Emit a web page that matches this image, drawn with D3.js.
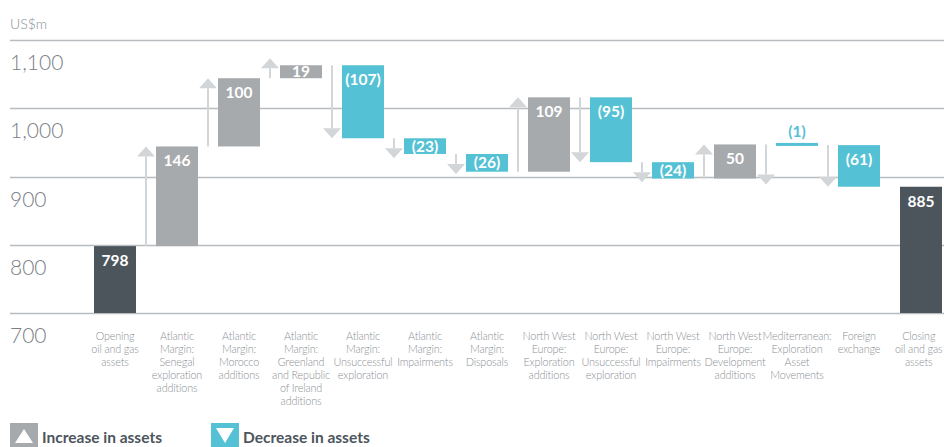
<!DOCTYPE html>
<html>
<head>
<meta charset="utf-8">
<script src="https://cdn.jsdelivr.net/npm/d3@7"></script>
<style>
  html, body { margin: 0; padding: 0; background: #fff; }
  svg { display: block; font-family: Lato, "Open Sans", sans-serif; }
</style>
</head>
<body>
<div id="chart"></div>
<script>
// Waterfall of oil and gas assets, US$m
const categories = [
    "Opening\noil and gas\nassets",
    "Atlantic\nMargin:\nSenegal\nexploration\nadditions",
    "Atlantic\nMargin:\nMorocco\nadditions",
    "Atlantic\nMargin:\nGreenland\nand Republic\nof Ireland\nadditions",
    "Atlantic\nMargin:\nUnsuccessful\nexploration",
    "Atlantic\nMargin:\nImpairments",
    "Atlantic\nMargin:\nDisposals",
    "North West\nEurope:\nExploration\nadditions",
    "North West\nEurope:\nUnsuccessful\nexploration",
    "North West\nEurope:\nImpairments",
    "North West\nEurope:\nDevelopment\nadditions",
    "Mediterranean:\nExploration\nAsset\nMovements",
    "Foreign\nexchange",
    "Closing\noil and gas\nassets"
];
const values = [798, 146, 100, 19, -107, -23, -26, 109, -95, -24, 50, -1, -61, 885];
const yTicks = [700, 800, 900, 1000, 1100];
const legendItems = ["Increase in assets", "Decrease in assets"];

const width = 944, height = 447;
const colors = { total: "#4d555c", inc: "#a7aaad", dec: "#55c1d5", arrow: "#d3d6d9", grid: "#b9bcbf" };

const svg = d3.select("#chart").append("svg")
    .attr("width", width)
    .attr("height", height);

const y = d3.scaleLinear().domain([700, 1100]).range([313, 40]);
const x = d3.scaleBand()
    .domain(d3.range(categories.length))
    .range([84, 952])
    .paddingInner(0.3226)
    .paddingOuter(0.1613);

// build running totals
let running = 0;
const steps = values.map((v, i) => {
    const last = i === values.length - 1;
    let kind, start, end;
    if (i === 0 || last) {
        kind = "total"; start = 700; end = v; running = v;
    } else {
        kind = v >= 0 ? "inc" : "dec";
        start = running; end = running + v; running = end;
    }
    return { i, v, kind, start, end };
});

// gridlines + y labels
svg.append("g").selectAll("line")
    .data(yTicks)
    .enter().append("line")
    .attr("x1", 10).attr("x2", width)
    .attr("y1", d => Math.round(y(d)) + 0.5)
    .attr("y2", d => Math.round(y(d)) + 0.5)
    .attr("stroke", colors.grid)
    .attr("stroke-width", 1.5);

svg.append("g").selectAll("text")
    .data(yTicks)
    .enter().append("text")
    .attr("x", 10)
    .attr("y", d => y(d) + 30)
    .attr("fill", "#7b8086")
    .style("font-size", "21px")
    .style("font-weight", 300)
    .text(d => d3.format(",")(d));

svg.append("text")
    .attr("x", 10).attr("y", 29)
    .attr("fill", "#8a8f94")
    .style("font-size", "14px")
    .style("font-weight", 300)
    .text("US$m");

// arrows
const arrows = svg.append("g").selectAll("g")
    .data(steps.filter(d => d.kind !== "total"))
    .enter().append("g")
    .attr("transform", d => `translate(${x(d.i) - 10},0)`);

arrows.each(function(d) {
    const g = d3.select(this);
    const y0 = y(d.start), y1 = y(d.end);
    const h = Math.abs(y1 - y0);
    const len = h < 4 ? 40 : Math.max(h, 20);
    const dir = d.kind === "inc" ? -1 : 1;
    const tip = y0 + dir * len;
    const base = tip - dir * 10;
    g.append("line")
        .attr("x1", 0).attr("x2", 0)
        .attr("y1", y0).attr("y2", base)
        .attr("stroke", colors.arrow)
        .attr("stroke-width", 2);
    g.append("path")
        .attr("d", `M-9,${base}L9,${base}L0,${tip}Z`)
        .attr("fill", colors.arrow);
});

// bars
const bars = svg.append("g").selectAll("g")
    .data(steps)
    .enter().append("g");

bars.append("rect")
    .attr("x", d => x(d.i))
    .attr("width", x.bandwidth())
    .attr("y", d => {
        const top = y(Math.max(d.start, d.end));
        const h = Math.abs(y(d.start) - y(d.end));
        return h < 3 ? top - 1.5 : top;
    })
    .attr("height", d => Math.max(3, Math.abs(y(d.start) - y(d.end))))
    .attr("fill", d => colors[d.kind]);

bars.append("text")
    .attr("x", d => x(d.i) + x.bandwidth() / 2)
    .attr("y", d => {
        const top = y(Math.max(d.start, d.end));
        const h = Math.abs(y(d.start) - y(d.end));
        if (h < 4) return top - 7;
        if (h > 30) return top + 20;
        return top + h / 2 + 5.5;
    })
    .attr("text-anchor", "middle")
    .attr("fill", d => Math.abs(y(d.start) - y(d.end)) < 4 ? colors.dec : "#fff")
    .style("font-size", "15.5px")
    .style("font-weight", 700)
    .text(d => d.v < 0 ? `(${-d.v})` : d.v);

// category labels
const cat = svg.append("g").selectAll("text")
    .data(categories)
    .enter().append("text")
    .attr("x", (d, i) => x(i) + x.bandwidth() / 2)
    .attr("y", 340)
    .attr("text-anchor", "middle")
    .attr("fill", "#8a8f94")
    .style("font-size", "10.8px")
    .style("letter-spacing", "-0.15px")
    .style("font-weight", 300);

cat.selectAll("tspan")
    .data(d => d.split("\n"))
    .enter().append("tspan")
    .attr("x", function() { return d3.select(this.parentNode).attr("x"); })
    .attr("dy", (d, i) => i === 0 ? 0 : 12.9)
    .text(d => d);

// keep the last label inside the picture
cat.each(function() {
    const box = this.getBBox();
    const over = box.x + box.width - (width - 1);
    if (over > 0) {
        const nx = +d3.select(this).attr("x") - over;
        d3.select(this).attr("x", nx).selectAll("tspan").attr("x", nx);
    }
});

// legend
const legend = svg.append("g").selectAll("g")
    .data(legendItems)
    .enter().append("g")
    .attr("transform", (d, i) => `translate(${i === 0 ? 10 : 211},423)`);

legend.append("rect")
    .attr("width", 28).attr("height", 24)
    .attr("fill", (d, i) => i === 0 ? colors.inc : colors.dec);

legend.append("path")
    .attr("d", (d, i) => i === 0 ? "M5,20L23,20L14,6Z" : "M5,5L23,5L14,20Z")
    .attr("fill", "#fff");

legend.append("text")
    .attr("x", 32).attr("y", 20)
    .attr("fill", "#4d555c")
    .style("font-size", "15.5px")
    .style("font-weight", 700)
    .text(d => d);
</script>
</body>
</html>
